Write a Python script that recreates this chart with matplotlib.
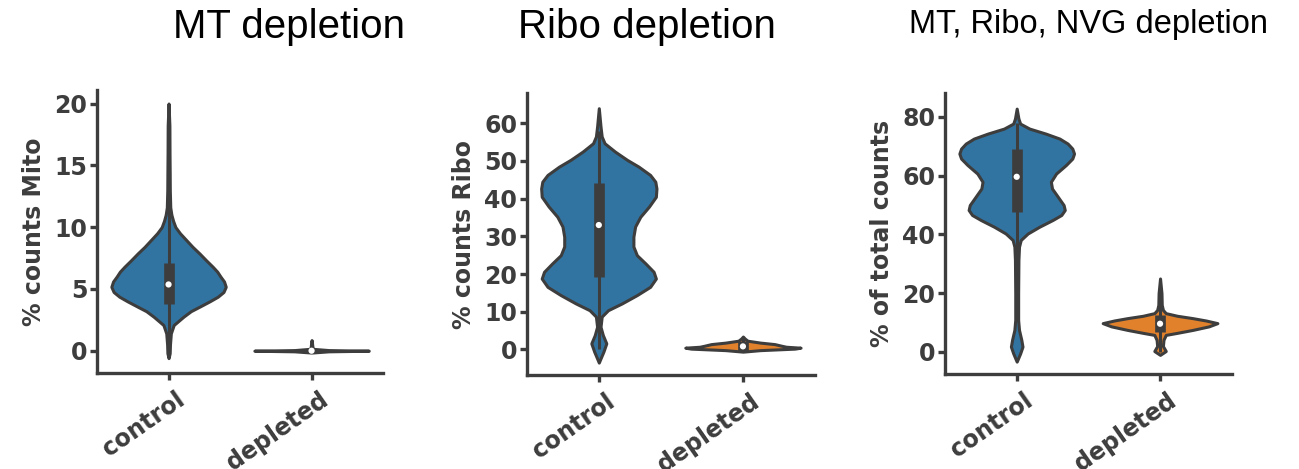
import matplotlib
matplotlib.use("Agg")
import matplotlib.pyplot as plt
import matplotlib.transforms as mtransforms
import numpy as np

plt.rcParams['font.family'] = 'DejaVu Sans'

groups = ['control', 'depleted']
dark = '#3d3d3d'
blue = '#3274a1'
orange = '#e1812c'

# --- MT depletion: % counts Mito (density outline, width relative to max)
mito_ctrl_y = [-0.6, -0.2, 0.5, 1.4, 2.08, 2.75, 3.2, 3.56, 4.0, 4.37, 4.75, 5.17, 5.6,
               5.98, 6.4, 6.8, 7.3, 7.87, 8.4, 8.95, 9.5, 10.0, 10.5, 11.0, 11.6,
               13.0, 14.4, 16.0, 18.2, 20.0]
mito_ctrl_w = [0.0, 0.02, 0.025, 0.04, 0.09, 0.26, 0.39, 0.54, 0.72, 0.86, 0.96, 1.0, 0.97,
               0.91, 0.85, 0.77, 0.66, 0.54, 0.42, 0.31, 0.2, 0.12, 0.08, 0.05, 0.03,
               0.022, 0.02, 0.017, 0.015, 0.0]
mito_depl_y = [-0.15, -0.05, 0.0, 0.05, 0.15, 0.3, 0.5, 0.86]
mito_depl_w = [0.0, 0.3, 1.0, 0.3, 0.03, 0.015, 0.01, 0.0]
mito_q1 = [3.8, -0.1]
mito_median = [5.36, 0.0]
mito_q3 = [7.1, 0.1]
mito_lo = [0.0, 0.0]
mito_hi = [12.1, 0.86]

# --- Ribo depletion: % counts Ribo
ribo_ctrl_y = [-3.5, -2.4, -0.6, 1.6, 3.8, 6.0, 8.7, 10.4, 12.2, 14.4, 16.6, 18.8, 20.6,
               22.8, 25.0, 27.3, 29.9, 32.6, 35.2, 37.9, 40.5, 42.7, 44.5, 46.3, 48.5,
               50.3, 52.5, 54.7, 56.5, 59.1, 64.0]
ribo_ctrl_w = [0.0, 0.03, 0.08, 0.13, 0.07, 0.03, 0.05, 0.16, 0.40, 0.66, 0.89, 0.99, 0.95,
               0.81, 0.66, 0.60, 0.60, 0.63, 0.72, 0.87, 0.99, 1.0, 0.98, 0.89, 0.69,
               0.49, 0.28, 0.10, 0.05, 0.03, 0.0]
ribo_depl_y = [-0.6, -0.2, 0.2, 0.45, 0.7, 1.0, 1.4, 1.8, 2.3, 2.9, 3.4]
ribo_depl_w = [0.0, 0.3, 0.9, 1.0, 0.75, 0.66, 0.55, 0.3, 0.08, 0.03, 0.0]
ribo_q1 = [19.1, -0.6]
ribo_median = [33.0, 0.8]
ribo_q3 = [44.1, 2.2]
ribo_lo = [0.0, -0.5]
ribo_hi = [58.0, 3.3]

# --- MT, Ribo, NVG depletion: % of total counts
total_ctrl_y = [-3.3, -0.5, 1.8, 4.1, 7.5, 10.9, 19.9, 31.3, 35.8, 38.1, 40.3, 42.6, 44.9,
                46.6, 48.3, 50.0, 52.8, 55.6, 57.9, 60.7, 63.6, 65.8, 67.5, 69.2, 70.9,
                72.6, 74.3, 76.0, 77.7, 79.4, 82.8]
total_ctrl_w = [0.0, 0.06, 0.10, 0.08, 0.04, 0.025, 0.025, 0.03, 0.04, 0.07, 0.19, 0.39, 0.62,
                0.77, 0.83, 0.81, 0.71, 0.61, 0.59, 0.68, 0.85, 0.96, 0.99, 0.96, 0.88,
                0.74, 0.50, 0.22, 0.06, 0.03, 0.0]
total_depl_y = [-1.0, 0.3, 2.0, 4.1, 5.8, 6.5, 7.5, 8.7, 9.8, 10.7, 11.5, 12.3, 13.2,
                14.3, 16.0, 20.0, 25.0]
total_depl_w = [0.0, 0.10, 0.05, 0.06, 0.10, 0.30, 0.57, 0.85, 1.0, 0.80, 0.57, 0.30, 0.10,
                0.05, 0.03, 0.025, 0.0]
total_q1 = [47.5, 6.8]
total_median = [59.6, 9.6]
total_q3 = [68.9, 12.6]
total_lo = [16.0, 0.0]
total_hi = [78.0, 21.0]


def draw_panel(ax, profiles, q1, median, q3, lo, hi, colors, ylabel, ylim, yticks):
    pos = [0, 1]
    stats = []
    for (y, w), m in zip(profiles, median):
        stats.append({'coords': np.array(y), 'vals': np.array(w), 'mean': m,
                      'median': m, 'min': min(y), 'max': max(y)})
    parts = ax.violin(stats, positions=pos, widths=0.8, showmeans=False,
                      showextrema=False, showmedians=False)
    for body, c in zip(parts['bodies'], colors):
        body.set_facecolor(c)
        body.set_edgecolor(dark)
        body.set_linewidth(2.2)
        body.set_alpha(1)
    ax.vlines(pos, lo, hi, colors=dark, lw=2.2, zorder=3)
    ax.vlines(pos, q1, q3, colors=dark, lw=7.7, zorder=3)
    ax.scatter(pos, median, s=20, c='white', edgecolors='none', zorder=4)

    ax.set_xlim(-0.5, 1.5)
    ax.set_ylim(*ylim)
    ax.set_yticks(yticks)
    ax.set_xticks(pos, groups)
    ax.set_ylabel(ylabel, fontsize=17, fontweight='bold', color=dark, labelpad=6)
    ax.spines[['top', 'right']].set_visible(False)
    ax.spines[['left', 'bottom']].set_linewidth(2.4)
    ax.spines[['left', 'bottom']].set_color(dark)
    ax.tick_params(axis='both', width=2.4, length=5, color=dark, labelcolor=dark,
                   labelsize=17, pad=2)
    for lab in ax.get_yticklabels():
        lab.set_fontweight('bold')
    offset = mtransforms.ScaledTranslation(5 / 72, -3.5 / 72, ax.figure.dpi_scale_trans)
    for lab in ax.get_xticklabels():
        lab.set_fontweight('bold')
        lab.set_rotation(35)
        lab.set_ha('right')
        lab.set_rotation_mode('anchor')
        lab.set_transform(lab.get_transform() + offset)


fig = plt.figure(figsize=(12.99, 4.69), dpi=100)

ax1 = fig.add_axes([0.0747, 0.2053, 0.2202, 0.603])
draw_panel(ax1, [(mito_ctrl_y, mito_ctrl_w), (mito_depl_y, mito_depl_w)],
           mito_q1, mito_median, mito_q3, mito_lo, mito_hi, [blue, orange],
           '% counts Mito', (-1.78, 21.1), [0, 5, 10, 15, 20])

ax2 = fig.add_axes([0.4055, 0.2004, 0.2219, 0.601])
draw_panel(ax2, [(ribo_ctrl_y, ribo_ctrl_w), (ribo_depl_y, ribo_depl_w)],
           ribo_q1, ribo_median, ribo_q3, ribo_lo, ribo_hi, [blue, orange],
           '% counts Ribo', (-6.8, 68.0), [0, 10, 20, 30, 40, 50, 60])

ax3 = fig.add_axes([0.7275, 0.2026, 0.2207, 0.5984])
draw_panel(ax3, [(total_ctrl_y, total_ctrl_w), (total_depl_y, total_depl_w)],
           total_q1, total_median, total_q3, total_lo, total_hi, [blue, orange],
           '% of total counts', (-7.5, 88.0), [0, 20, 40, 60, 80])

fig.text(0.2225, 0.919, 'MT depletion', family='Liberation Sans', fontsize=29,
         ha='center', va='baseline')
fig.text(0.498, 0.919, 'Ribo depletion', family='Liberation Sans', fontsize=29,
         ha='center', va='baseline')
fig.text(0.8376, 0.9296, 'MT, Ribo, NVG depletion', family='Liberation Sans', fontsize=23.5,
         ha='center', va='baseline')

fig.savefig('out.png', dpi=100)
